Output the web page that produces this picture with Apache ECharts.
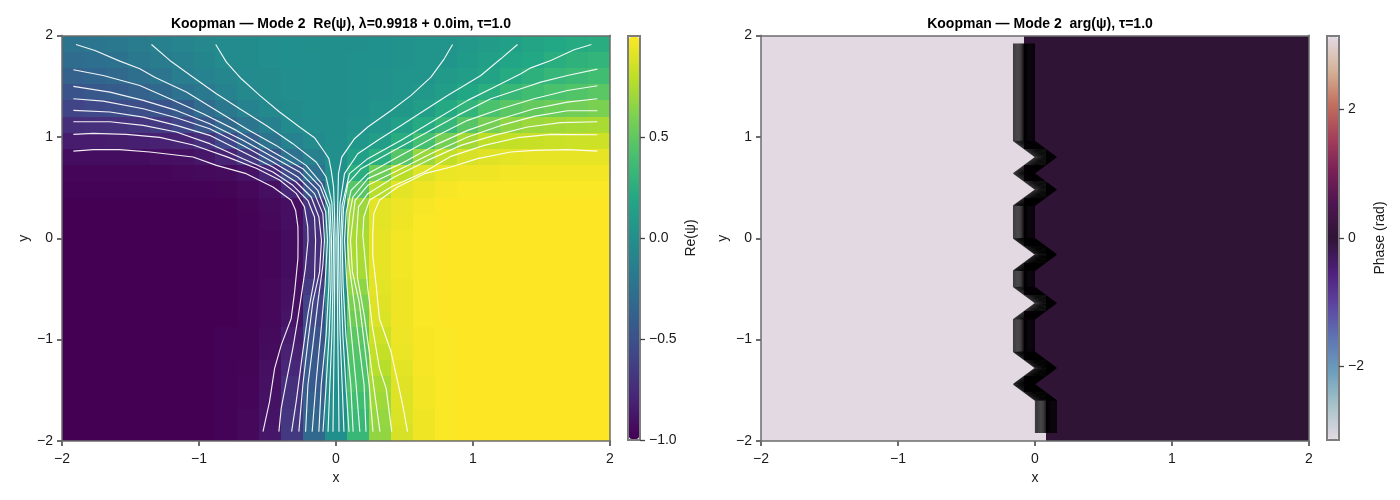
<!DOCTYPE html>
<html><head><meta charset="utf-8">
<style>html,body{margin:0;padding:0;background:#fff}#c{width:1400px;height:500px}</style>
<script src="https://cdn.jsdelivr.net/npm/echarts@6/dist/echarts.min.js"></script>
</head><body><div id="c"></div>
<script>
const titleLeft = 'Koopman — Mode 2  Re(ψ), λ=0.9918 + 0.0im, τ=1.0';
const titleRight = 'Koopman — Mode 2  arg(ψ), τ=1.0';
const cellX = ['-1.92','-1.76','-1.60','-1.44','-1.28','-1.12','-0.96','-0.80','-0.64','-0.48','-0.32','-0.16','0','0.16','0.32','0.48','0.64','0.80','0.96','1.12','1.28','1.44','1.60','1.76','1.92'];
const cellY = ['1.92','1.76','1.60','1.44','1.28','1.12','0.96','0.80','0.64','0.48','0.32','0.16','0','-0.16','-0.32','-0.48','-0.64','-0.80','-0.96','-1.12','-1.28','-1.44','-1.60','-1.76','-1.92'];
// Re(psi), one row per cellY
const rePsi = [
[-.24,-.22,-.20,-.17,-.13,-.10,-.07,-.04,-.03,-.02,-.01,0,0,0,.01,.02,.03,.04,.07,.10,.13,.17,.20,.22,.24],
[-.30,-.28,-.245,-.20,-.165,-.13,-.09,-.045,-.03,-.02,-.01,-.01,0,.01,.01,.02,.03,.045,.09,.13,.165,.20,.245,.28,.30],
[-.38,-.35,-.32,-.27,-.22,-.16,-.12,-.08,-.04,-.03,-.02,-.01,0,.01,.02,.03,.04,.08,.12,.16,.22,.27,.32,.35,.38],
[-.48,-.45,-.42,-.38,-.33,-.25,-.19,-.12,-.07,-.03,-.02,-.01,0,.01,.02,.03,.07,.12,.19,.25,.33,.38,.42,.45,.48],
[-.60,-.57,-.55,-.52,-.48,-.42,-.30,-.21,-.12,-.06,-.03,-.01,0,.01,.03,.06,.12,.21,.30,.42,.48,.52,.55,.57,.60],
[-.74,-.73,-.72,-.70,-.66,-.58,-.47,-.32,-.22,-.13,-.05,-.02,0,.02,.05,.13,.22,.32,.47,.58,.66,.70,.72,.73,.74],
[-.85,-.85,-.84,-.83,-.82,-.80,-.72,-.58,-.40,-.24,-.12,-.05,0,.05,.12,.24,.40,.58,.72,.80,.82,.83,.84,.85,.85],
[-.93,-.93,-.93,-.93,-.92,-.91,-.88,-.81,-.69,-.47,-.25,-.13,0,.13,.25,.47,.69,.81,.88,.91,.92,.93,.93,.93,.93],
[-.97,-.97,-.97,-.97,-.97,-.96,-.95,-.94,-.90,-.79,-.55,-.25,0,.25,.55,.79,.90,.94,.95,.96,.97,.97,.97,.97,.97],
[-.99,-.99,-.99,-.99,-.99,-.99,-.99,-.98,-.96,-.92,-.78,-.47,0,.47,.78,.92,.96,.98,.99,.99,.99,.99,.99,.99,.99],
[-1,-1,-1,-1,-1,-1,-1,-1,-.98,-.95,-.92,-.70,0,.70,.92,.95,.98,1,1,1,1,1,1,1,1],
[-1,-1,-1,-1,-1,-1,-1,-1,-.99,-.96,-.92,-.72,0,.72,.92,.96,.99,1,1,1,1,1,1,1,1],
[-1,-1,-1,-1,-1,-1,-1,-1,-.99,-.97,-.93,-.74,0,.74,.93,.97,.99,1,1,1,1,1,1,1,1],
[-1,-1,-1,-1,-1,-1,-1,-1,-.99,-.97,-.93,-.74,0,.74,.93,.97,.99,1,1,1,1,1,1,1,1],
[-1,-1,-1,-1,-1,-1,-1,-1,-.99,-.97,-.93,-.73,0,.73,.93,.97,.99,1,1,1,1,1,1,1,1],
[-1,-1,-1,-1,-1,-1,-1,-1,-.99,-.96,-.92,-.66,0,.66,.92,.96,.99,1,1,1,1,1,1,1,1],
[-1,-1,-1,-1,-1,-1,-1,-1,-.99,-.96,-.91,-.60,0,.60,.91,.96,.99,1,1,1,1,1,1,1,1],
[-1,-1,-1,-1,-1,-1,-1,-1,-.99,-.96,-.89,-.56,0,.56,.89,.96,.99,1,1,1,1,1,1,1,1],
[-1,-1,-1,-1,-1,-1,-1,-.99,-.985,-.95,-.85,-.49,0,.49,.85,.95,.985,.99,1,1,1,1,1,1,1],
[-1,-1,-1,-1,-1,-1,-1,-.99,-.985,-.94,-.82,-.46,0,.46,.82,.94,.985,.99,1,1,1,1,1,1,1],
[-1,-1,-1,-1,-1,-1,-1,-.99,-.98,-.92,-.78,-.43,0,.43,.78,.92,.98,.99,1,1,1,1,1,1,1],
[-1,-1,-1,-1,-1,-1,-1,-.99,-.97,-.91,-.73,-.43,0,.43,.73,.91,.97,.99,1,1,1,1,1,1,1],
[-1,-1,-1,-1,-1,-1,-1,-.99,-.97,-.905,-.71,-.38,0,.38,.71,.905,.97,.99,1,1,1,1,1,1,1],
[-1,-1,-1,-1,-1,-1,-1,-.99,-.96,-.89,-.68,-.34,0,.34,.68,.89,.96,.99,1,1,1,1,1,1,1],
[-1,-1,-1,-1,-1,-1,-1,-.99,-.96,-.88,-.67,-.33,0,.33,.67,.88,.96,.99,1,1,1,1,1,1,1]
];
// Contours of Re(psi), [x,y], left half
const contoursLeft = [
[[-1.917,.86],[-1.772,.874],[-1.578,.874],[-1.359,.851],[-1.043,.801],[-.873,.719],[-.655,.637],[-.46,.506],[-.327,.374],[-.295,.276],[-.278,.112],[-.277,-.02],[-.278,-.2],[-.302,-.529],[-.327,-.791],[-.4,-1.054],[-.448,-1.284],[-.485,-1.612],[-.533,-1.908]],
[[-1.917,1.025],[-1.772,1.034],[-1.529,1.025],[-1.286,.995],[-1.043,.92],[-.8,.805],[-.582,.69],[-.412,.575],[-.291,.443],[-.23,.309],[-.206,.112],[-.204,-.02],[-.224,-.299],[-.278,-.791],[-.315,-1.087],[-.363,-1.415],[-.4,-1.678],[-.417,-1.908]],
[[-1.917,1.149],[-1.65,1.149],[-1.407,1.113],[-1.165,1.048],[-.922,.933],[-.679,.785],[-.461,.654],[-.315,.522],[-.206,.374],[-.157,.21],[-.149,-.02],[-.157,-.391],[-.205,-.752],[-.242,-1.113],[-.29,-1.606],[-.324,-1.908]],
[[-1.917,1.261],[-1.65,1.245],[-1.407,1.195],[-1.165,1.113],[-.922,1.015],[-.679,.851],[-.461,.703],[-.291,.555],[-.181,.407],[-.125,.21],[-.106,-.02],[-.12,-.332],[-.169,-.627],[-.205,-1.021],[-.242,-1.448],[-.271,-1.908]],
[[-1.917,1.376],[-1.699,1.353],[-1.407,1.278],[-1.165,1.189],[-.922,1.08],[-.679,.916],[-.461,.752],[-.279,.604],[-.157,.44],[-.096,.243],[-.084,-.02],[-.096,-.266],[-.132,-.627],[-.169,-1.054],[-.205,-1.448],[-.222,-1.908]],
[[-1.917,1.498],[-1.65,1.442],[-1.407,1.36],[-1.165,1.261],[-.922,1.13],[-.679,.966],[-.461,.801],[-.267,.654],[-.133,.473],[-.075,.259],[-.062,-.02],[-.08,-.463],[-.108,-.89],[-.145,-1.415],[-.174,-1.908]],
[[-1.917,1.662],[-1.699,1.606],[-1.432,1.507],[-1.213,1.376],[-.97,1.228],[-.727,1.064],[-.46,.851],[-.242,.686],[-.115,.506],[-.055,.3],[-.044,-.02],[-.052,-.463],[-.072,-.956],[-.108,-1.448],[-.125,-1.908]],
[[-1.898,1.911],[-1.76,1.852],[-1.578,1.747],[-1.432,1.672],[-1.323,1.589],[-1.092,1.442],[-.873,1.261],[-.655,1.081],[-.437,.916],[-.218,.719],[-.105,.539],[-.045,.33],[-.033,-.02],[-.037,-.463],[-.05,-.956],[-.072,-1.448],[-.095,-1.908]],
[[-1.347,1.911],[-1.213,1.754],[-1.043,1.589],[-.873,1.425],[-.703,1.278],[-.509,1.113],[-.315,.933],[-.145,.752],[-.072,.604],[-.03,.35],[-.018,0],[-.022,-.463],[-.03,-.956],[-.045,-1.448],[-.058,-1.908]],
[[-.878,1.911],[-.8,1.737],[-.691,1.573],[-.557,1.409],[-.412,1.245],[-.266,1.097],[-.157,.992],[-.084,.851],[-.052,.785],[-.035,.67],[-.018,.506],[-.012,.3],[-.007,0],[-.01,-.463],[-.013,-.956],[-.018,-1.448],[-.022,-1.908]]
];
// Contours of Re(psi), [x,y], right half
const contoursRight = [
[[1.908,.86],[1.689,.874],[1.446,.867],[1.276,.851],[1.033,.785],[.839,.703],[.645,.637],[.45,.506],[.317,.374],[.276,.243],[.268,.03],[.268,-.167],[.293,-.463],[.317,-.791],[.402,-1.12],[.45,-1.415],[.487,-1.645],[.522,-1.908]],
[[1.908,1.021],[1.568,1.025],[1.325,.992],[1.082,.916],[.839,.808],[.645,.654],[.402,.506],[.244,.374],[.203,.21],[.196,.03],[.232,-.496],[.268,-.89],[.317,-1.284],[.366,-1.481],[.407,-1.908]],
[[1.908,1.149],[1.64,1.14],[1.398,1.097],[1.155,1.015],[.912,.916],[.669,.768],[.426,.604],[.232,.44],[.164,.309],[.154,.1],[.149,-.02],[.157,-.391],[.205,-.752],[.242,-1.113],[.29,-1.606],[.321,-1.908]],
[[1.908,1.258],[1.689,1.258],[1.446,1.202],[1.204,1.113],[.961,.998],[.718,.851],[.475,.686],[.232,.522],[.14,.374],[.125,.21],[.106,-.02],[.12,-.332],[.169,-.627],[.205,-1.021],[.242,-1.448],[.27,-1.908]],
[[1.908,1.376],[1.689,1.343],[1.446,1.278],[1.204,1.179],[.961,1.064],[.718,.916],[.475,.736],[.232,.588],[.123,.407],[.1,.243],[.084,-.02],[.096,-.266],[.132,-.627],[.169,-1.054],[.205,-1.448],[.219,-1.908]],
[[1.908,1.504],[1.689,1.458],[1.446,1.376],[1.204,1.278],[.961,1.163],[.718,.998],[.475,.818],[.232,.637],[.11,.473],[.075,.259],[.062,-.02],[.08,-.463],[.108,-.89],[.145,-1.415],[.174,-1.908]],
[[1.908,1.668],[1.689,1.606],[1.495,1.54],[1.349,1.475],[1.13,1.376],[.888,1.212],[.645,1.031],[.402,.851],[.183,.686],[.086,.539],[.055,.3],[.044,-.02],[.052,-.463],[.072,-.956],[.108,-1.448],[.125,-1.908]],
[[1.864,1.911],[1.738,1.859],[1.568,1.754],[1.422,1.681],[1.349,1.622],[1.179,1.507],[.961,1.36],[.718,1.163],[.475,.966],[.232,.785],[.098,.637],[.045,.33],[.033,-.02],[.037,-.463],[.05,-.956],[.072,-1.448],[.095,-1.908]],
[[1.325,1.911],[1.203,1.77],[1.057,1.606],[.936,1.507],[.814,1.409],[.644,1.261],[.475,1.113],[.305,.966],[.159,.834],[.062,.637],[.03,.35],[.018,0],[.022,-.463],[.03,-.956],[.045,-1.448],[.058,-1.908]],
[[.851,1.911],[.79,1.77],[.693,1.589],[.548,1.409],[.402,1.261],[.232,1.097],[.135,.982],[.042,.801],[.018,.637],[.012,.3],[.007,0],[.01,-.463],[.013,-.956],[.018,-1.448],[.022,-1.908]]
];
// Phase: column holding the jump from pi to 0, per cellY row
const phaseJumpX = [-.16,-.16,-.16,-.16,-.16,-.16,-.16,0,-.16,0,-.16,-.16,-.16,0,-.16,-.16,0,-.16,-.16,-.16,0,-.16,0,0,0];
const phaseHigh = 3.1416, phaseLow = 0, cellStep = 0.16;
const jumpLevels = [.02,.07,.12,.17,.22,.27,.32,.37,.42,.47,.52,.57,.62,.67,.72,.77,.82,.87,.92,.97];
const jumpShade  = [.72,.74,.78,.8,.84,.86,.9,.92,.95,.97,.97,.97,.97,.97,.97,.97,.97,.97,.97,.97];
const viridis = ['#440154','#482475','#414487','#355f8d','#2a788e','#21908d','#22a884','#44bf70','#7ad151','#bddf26','#fde725'];
const twilight = ['#e2d9e2','#a8c3ca','#6d9fbb','#5f75b3','#5d45a0','#4f1f7a','#2f1436','#4c1550','#7a2058','#a5405a','#c2705e','#d5b299','#e2d9e2'];
const reTicks = [-1,-.5,0,.5], phaseTicks = [-2,0,2];

const INK='#1a1a1a', SPINE='#6b6b6b', FONT='"Liberation Sans", Arimo, Helvetica, sans-serif';
const minus = v => String(v).replace('-', '−');
const fixed1 = v => minus(Number(v).toFixed(1));
const nameText = {color:INK, fontSize:14, fontFamily:FONT};

const grids = [
  {left:62, top:35.5, width:548, height:405.5},
  {left:761, top:35.5, width:548, height:405.5},
  {left:628, top:36, width:12, height:404, show:true, borderColor:'#7d7d7d', borderWidth:2},
  {left:1327, top:36, width:12, height:404, show:true, borderColor:'#7d7d7d', borderWidth:2}
];
const frameLine = {show:true, onZero:false, lineStyle:{color:SPINE, width:1.5, cap:'square'}};
const xAxes = [], yAxes = [];
[0,1].forEach(g => {
  xAxes.push({type:'category', gridIndex:g, data:cellX, position:'top', z:5, axisLine:frameLine, axisTick:{show:false}, axisLabel:{show:false}, splitLine:{show:false}});
  xAxes.push({type:'value', gridIndex:g, min:-2, max:2, interval:1, position:'bottom', z:5, axisLine:frameLine,
    axisTick:{show:true, length:5, lineStyle:{color:SPINE, width:2}},
    axisLabel:{color:INK, fontSize:14, fontFamily:FONT, margin:11, formatter:minus},
    splitLine:{show:false}, name:'x', nameLocation:'middle', nameGap:30, nameTextStyle:nameText});
  yAxes.push({type:'category', gridIndex:g, data:cellY, inverse:true, position:'right', z:5, axisLine:frameLine, axisTick:{show:false}, axisLabel:{show:false}, splitLine:{show:false}});
  yAxes.push({type:'value', gridIndex:g, min:-2, max:2, interval:1, position:'left', z:5, axisLine:frameLine,
    axisTick:{show:true, length:5, lineStyle:{color:SPINE, width:2}},
    axisLabel:{color:INK, fontSize:14, fontFamily:FONT, margin:9, formatter:minus},
    splitLine:{show:false}, name:'y', nameLocation:'middle', nameGap:31, nameRotate:90, nameTextStyle:nameText});
});
const barY = (g,min,max,ticks,fmt,name,gap) => ({type:'value', gridIndex:g, min, max, position:'right', z:5, axisLine:{show:false, onZero:false},
  axisTick:{show:true, length:5, inside:false, customValues:ticks, lineStyle:{color:'#444', width:1.3}},
  axisLabel:{show:true, color:INK, fontSize:14, fontFamily:FONT, margin:9, customValues:ticks, formatter:fmt},
  splitLine:{show:false}, name, nameLocation:'middle', nameGap:gap, nameRotate:90, nameTextStyle:nameText});
xAxes.push({type:'value', gridIndex:2, min:0, max:1, show:false});
xAxes.push({type:'value', gridIndex:3, min:0, max:1, show:false});
yAxes.push(barY(2,-1,1,reTicks,fixed1,'Re(ψ)',44));
yAxes.push(barY(3,-phaseHigh,phaseHigh,phaseTicks,minus,'Phase (rad)',34));

const reCells = [], phaseCells = [];
cellY.forEach((_,r) => cellX.forEach((_,c) => {
  reCells.push([c, r, rePsi[r][c]]);
  const v = c < 12 ? phaseHigh : c > 12 ? phaseLow : (phaseJumpX[r] === 0 ? phaseHigh : phaseLow);
  phaseCells.push([c, r, v]);
}));
// Cell placed through the category axes, edges snapped to whole pixels so neighbours leave no seam.
const renderCell = (params, api) => {
  const p = api.coord([api.value(0), api.value(1)]);
  const s = api.size([1, 1]);
  const x0 = Math.round(p[0]-s[0]/2), x1 = Math.round(p[0]+s[0]/2);
  const y0 = Math.round(p[1]-s[1]/2), y1 = Math.round(p[1]+s[1]/2);
  return {type:'rect', shape:{x:x0, y:y0, width:x1-x0, height:y1-y0},
    style:{fill:api.visual('color')}, silent:true};
};
const heat = (g,data) => ({type:'custom', xAxisIndex:g*2, yAxisIndex:g*2, data, renderItem:renderCell, encode:{x:0, y:1}, silent:true, z:2, clip:true, progressive:0});
const series = [heat(0,reCells), heat(1,phaseCells)];
const line = (axis, data, color, width, opacity) => ({type:'line', xAxisIndex:axis, yAxisIndex:axis, data, showSymbol:false, symbol:'none', silent:true, z:6, lineStyle:{color, width, opacity}, emphasis:{disabled:true}});
contoursLeft.concat(contoursRight).forEach(c => series.push(line(1, c, '#ffffff', 1.15, .92)));
jumpLevels.forEach((t,i) => series.push(line(3, cellY.map((y,r) => [phaseJumpX[r] + t*cellStep, Number(y)]), '#000000', 1.1, jumpShade[i])));

const vm = (idx,min,max,colors,left) => ({type:'continuous', seriesIndex:idx, dimension:2, min, max, inRange:{color:colors}, show:true, calculable:false, hoverLink:false, realtime:false,
  left, top:37, itemWidth:10, itemHeight:402, padding:0, text:null, showLabel:false, orient:'vertical'});

const chart = echarts.init(document.getElementById('c'), null, {renderer:'canvas'});
chart.setOption({
  animation:false, backgroundColor:'#fff', textStyle:{fontFamily:FONT},
  title:[
    {text:titleLeft, left:336, top:12, textAlign:'center', textStyle:{fontSize:14, fontWeight:'bold', color:'#000', fontFamily:FONT}},
    {text:titleRight, left:1035, top:12, textAlign:'center', textStyle:{fontSize:14, fontWeight:'bold', color:'#000', fontFamily:FONT}}
  ],
  grid:grids, xAxis:xAxes, yAxis:yAxes, series,
  visualMap:[vm(0,-1,1,viridis,629), vm(1,-phaseHigh,phaseHigh,twilight,1328)]
});
</script></body></html>
